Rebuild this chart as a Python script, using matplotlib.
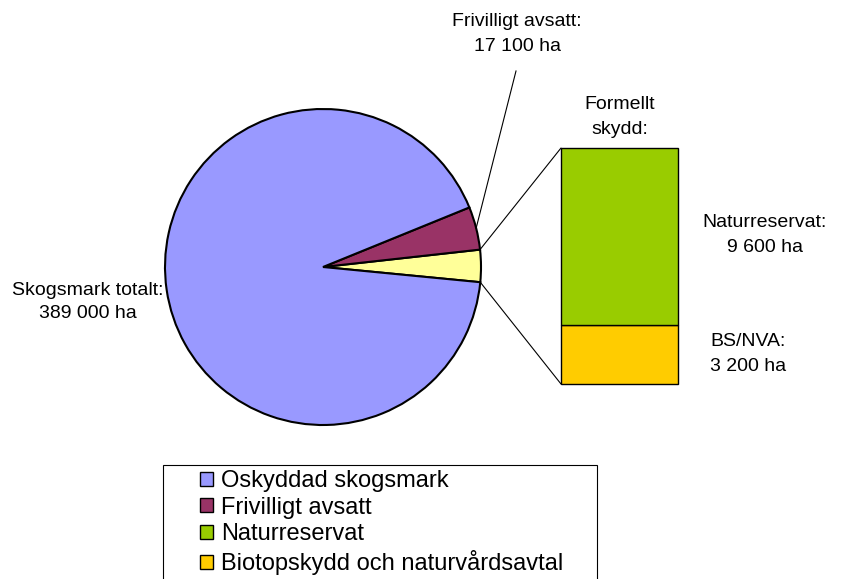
import matplotlib.pyplot as plt
from matplotlib.patches import Patch, Rectangle, ConnectionPatch
import numpy as np

plt.rcParams['font.family'] = ['Liberation Sans', 'DejaVu Sans']

# data (ha)
total = 389000
frivilligt = 17100
naturreservat = 9600
bs_nva = 3200
formellt = naturreservat + bs_nva
oskyddad = total - frivilligt - formellt

pie_values = [formellt, frivilligt, oskyddad]
pie_colors = ['#FFFF99', '#993366', '#9999FF']
bar_values = [bs_nva, naturreservat]
bar_colors = ['#FFCC00', '#99CC00']

legend_labels = ['Oskyddad skogsmark', 'Frivilligt avsatt', 'Naturreservat',
                 'Biotopskydd och naturvårdsavtal']
legend_colors = ['#9999FF', '#993366', '#99CC00', '#FFCC00']

W, H = 843, 579
fig = plt.figure(figsize=(W / 100, H / 100), dpi=100)
ax = fig.add_axes([0, 0, 1, 1])

cx, cy, r = 323, H - 267, 158
start = -360 * formellt / total / 2 + 0.4
wedges, _ = ax.pie(pie_values, colors=pie_colors, startangle=start, counterclock=True,
                   center=(cx, cy), radius=r, frame=True,
                   wedgeprops=dict(edgecolor='black', linewidth=1.5))
ax.set_xlim(0, W)
ax.set_ylim(0, H)
ax.set_aspect('auto')
ax.axis('off')

# bar of formal protection
bx0, bx1, by0, by1 = 561, 678, H - 384, H - 148
bax = fig.add_axes([bx0 / W, by0 / H, (bx1 - bx0) / W, (by1 - by0) / H])
bottom = 0
for v, c in zip(bar_values, bar_colors):
    bax.bar(0, v, bottom=bottom, width=1, color=c, edgecolor='black',
            linewidth=1.0, clip_on=False)
    bottom += v
bax.set_xlim(-0.5, 0.5)
bax.set_ylim(0, formellt)
bax.axis('off')

# connecting lines from yellow wedge to bar
yw = wedges[0]
for ang, ytop in [(yw.theta1, 0), (yw.theta2, formellt)]:
    px = cx + r * np.cos(np.radians(ang))
    py = cy + r * np.sin(np.radians(ang))
    con = ConnectionPatch(xyA=(px, py), coordsA=ax.transData,
                          xyB=(-0.5, ytop), coordsB=bax.transData,
                          color='black', linewidth=0.8)
    fig.add_artist(con)

# leader line for frivilligt
pw = wedges[1]
mid = np.radians(pw.theta1 + (pw.theta2 - pw.theta1) * 0.5)
ax.plot([cx + r * np.cos(mid), 516], [cy + r * np.sin(mid), H - 71],
        color='black', linewidth=0.8)

fs = 14
ls = 1.62
ax.text(517, H - 34, 'Frivilligt avsatt:\n17 100 ha', ha='center', va='center',
        fontsize=fs, linespacing=ls)
ax.text(620, H - 117, 'Formellt\nskydd:', ha='center', va='center',
        fontsize=fs, linespacing=ls)
ax.text(765, H - 235, 'Naturreservat:\n9 600 ha', ha='center', va='center',
        fontsize=fs, linespacing=ls)
ax.text(748, H - 354, 'BS/NVA:\n3 200 ha', ha='center', va='center',
        fontsize=fs, linespacing=ls)
ax.text(88, H - 302, 'Skogsmark totalt:\n389 000 ha', ha='center', va='center',
        fontsize=fs, linespacing=1.5)

# legend
fig.add_artist(Rectangle((163 / W, -0.05), (597 - 163) / W, (H - 465) / H + 0.05,
                         transform=fig.transFigure, facecolor='white',
                         edgecolor='black', linewidth=0.8))
handles = [Patch(facecolor=c, edgecolor='black', linewidth=1.0) for c in legend_colors]
leg = fig.legend(handles, legend_labels, loc='upper left',
                 bbox_to_anchor=(200 / W, 1 - 470 / H), frameon=False,
                 fontsize=17, handlelength=0.55, handleheight=0.55,
                 handletextpad=0.35, labelspacing=0.2, borderpad=0, borderaxespad=0)

fig.savefig('out.png', dpi=100)
